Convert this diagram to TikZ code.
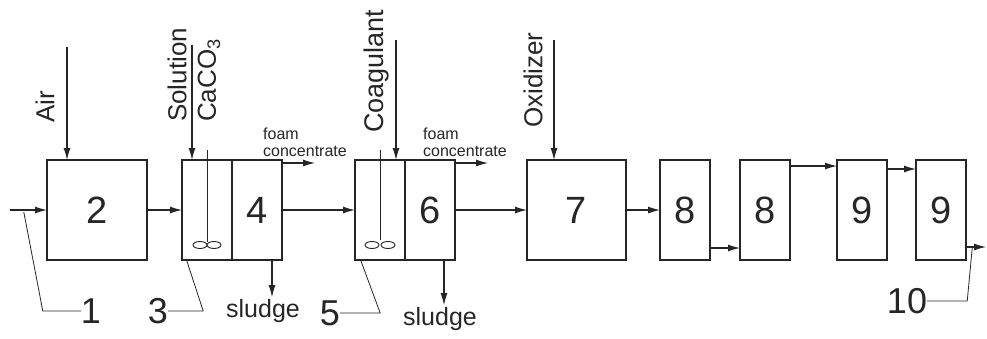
\documentclass[tikz,border=0pt]{standalone}
\usepackage{fontspec}
\setmainfont{Liberation Sans}
\usetikzlibrary{arrows.meta,positioning}

\begin{document}
\begin{tikzpicture}[
    x=1pt, y=-1pt,
    color=black!85,
    tank/.style={draw, line width=1.5pt, minimum width=50pt, minimum height=100pt, inner sep=0pt, outer sep=0pt, font=\fontsize{38}{40}\selectfont},
    wide/.style={tank, minimum width=100pt},
    flow/.style={-{Latex[length=12pt,width=7pt]}, line width=1.1pt},
    lead/.style={line width=0.8pt},
    feed/.style={rotate=90, anchor=west, inner sep=0pt, font=\fontsize{26}{28}\selectfont},
    tag/.style={inner sep=0pt, font=\fontsize{36}{38}\selectfont},
    outlet/.style={inner sep=0pt, font=\fontsize{25}{27}\selectfont},
    foam/.style={align=left, anchor=west, inner sep=0pt, font=\fontsize{16}{17}\selectfont}
]
\useasboundingbox[fill=white] (0,0) rectangle (987,338);

% treatment units
\node[wide] (r2) at (97,210) {2};
\node[tank, right=35pt of r2] (r3) {};
\node[tank, right=0pt of r3] (r4) {4};
\node[tank, right=73pt of r4] (r5) {};
\node[tank, right=0pt of r5] (r6) {6};
\node[wide, minimum width=99pt, right=72pt of r6] (r7) {7};
\node[tank, right=34pt of r7] (r8a) {8};
\node[tank, right=30pt of r8a] (r8b) {8};
\node[tank, right=47pt of r8b] (r9a) {9};
\node[tank, right=29pt of r9a] (r9b) {9};

% stirrers
\draw[line width=0.9pt] ([yshift=10pt]r3.north) -- ([yshift=18pt]r3.south);
\draw[line width=0.9pt] ([xshift=-7pt,yshift=15pt]r3.south) ellipse (7 and 3.5)
    ([xshift=7pt,yshift=15pt]r3.south) ellipse (7 and 3.5);
\draw[line width=0.9pt] ([yshift=10pt]r5.north) -- ([yshift=20pt]r5.south);
\draw[line width=0.9pt] ([xshift=-8pt,yshift=15pt]r5.south) ellipse (7 and 3.5)
    ([xshift=8pt,yshift=15pt]r5.south) ellipse (7 and 3.5);

% reagents
\node[feed] (air) at (45,123) {Air};
\node[feed] (sol) at (177,122) {Solution};
\node[feed] (caco) at (209,122) {CaCO\textsubscript{3}};
\node[feed, font=\fontsize{27}{29}\selectfont] (coag) at (377,133) {Coagulant};
\node[feed] (oxid) at (533,128) {Oxidizer};
\draw[flow] ([xshift=20pt,yshift=113pt]r2.north west) -- ([xshift=20pt]r2.north west);
\draw[flow] ([xshift=10pt,yshift=115pt]r3.north west) -- ([xshift=10pt]r3.north west);
\draw[flow] ([xshift=-9pt,yshift=120pt]r5.north east) -- ([xshift=-9pt]r5.north east);
\draw[flow] ([xshift=27pt,yshift=120pt]r7.north west) -- ([xshift=27pt]r7.north west);

% foam and sludge
\node[foam] (foam1) at (263,142) {foam\\concentrate};
\node[foam] (foam2) at (423,142) {foam\\concentrate};
\draw[flow] ([yshift=-3pt]r4.north east) -- ++(33,0);
\draw[flow] ([yshift=-3pt]r6.north east) -- ++(33,0);
\node[outlet] (sl1) at (263,311) {sludge};
\node[outlet] (sl2) at (440,319) {sludge};
\draw[flow, shorten >=2pt] ([xshift=-10pt]r4.south east) -- ([xshift=-10pt]r4.south east |- sl1.north);
\draw[flow, shorten >=2pt] ([xshift=-11pt]r6.south east) -- ([xshift=-11pt]r6.south east |- sl2.north);

% main flow
\coordinate (inlet) at (10,210);
\coordinate (exit) at (986,247);
\draw[flow] (inlet) -- (r2);
\draw[flow] (r2) -- (r3);
\draw[flow] (r4) -- (r5);
\draw[flow] (r6) -- (r7);
\draw[flow] (r7) -- (r8a);
\draw[flow] ([yshift=12pt]r8a.south east) -- ([yshift=12pt]r8b.south west);
\draw[flow] ([yshift=-6pt]r8b.north east) -- ([yshift=-6pt]r9a.north west);
\draw[flow] ([yshift=-9pt]r9a.north east) -- ([yshift=-9pt]r9b.north west);
\draw[flow] ([yshift=13pt]r9b.south east) -- (exit);

% item labels
\node[tag] (l1) at (91,311) {1};
\node[tag] (l3) at (158,311) {3};
\node[tag] (l5) at (330,313) {5};
\node[tag] (l10) at (907,301) {10};
\draw[lead] (l1.west) -- ++(-38,0) -- ++(-19,-99);
\draw[lead] (l3.east) -- ++(35,0) -- ++(-17,-52);
\draw[lead] (l5.east) -- ++(40,0) -- ++(-20,-54);
\draw[lead] (l10.east) -- ++(40,0) -- ++(5,-53);
\end{tikzpicture}
\end{document}
